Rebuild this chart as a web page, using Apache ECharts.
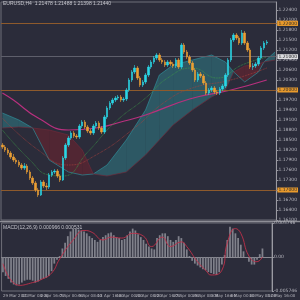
<!DOCTYPE html>
<html>
<head>
<meta charset="utf-8">
<script src="https://cdn.jsdelivr.net/npm/echarts@6/dist/echarts.min.js"></script>
<style>
html,body{margin:0;padding:0;background:#2b2c3a;}
#chart{width:300px;height:300px;}
</style>
</head>
<body>
<div id="chart"></div>
<script>
/* EURUSD candles + ichimoku cloud + MACD */
var opens = [1.1835,1.1829,1.1820,1.1811,1.1799,1.1790,1.1784,1.1775,1.1766,1.1772,
  1.1754,1.1736,1.1721,1.1700,1.1685,1.1724,1.1712,1.1709,1.1745,1.1754,
  1.1757,1.1742,1.1730,1.1796,1.1835,1.1856,1.1871,1.1862,1.1859,1.1892,
  1.1904,1.1889,1.1877,1.1871,1.1892,1.1901,1.1886,1.1874,1.1919,1.1946,
  1.1961,1.1970,1.1976,1.1979,1.1970,1.1973,1.2000,1.2030,1.2054,1.2066,
  1.2036,1.2015,1.2024,1.2045,1.2069,1.2084,1.2096,1.2105,1.2090,1.2084,
  1.2075,1.2084,1.2078,1.2072,1.2090,1.2069,1.2135,1.2114,1.2099,1.2081,
  1.2060,1.2030,1.2048,1.2042,1.2021,1.1991,1.2000,1.2006,1.1994,1.1991,
  1.2003,1.2012,1.2045,1.2090,1.2150,1.2165,1.2156,1.2141,1.2171,1.2141,
  1.2120,1.2069,1.2072,1.2078,1.2096,1.2126,1.2141];
var closes = [1.1829,1.1820,1.1811,1.1799,1.1790,1.1784,1.1775,1.1766,1.1772,1.1754,
  1.1736,1.1721,1.1700,1.1685,1.1724,1.1712,1.1709,1.1745,1.1754,1.1757,
  1.1742,1.1730,1.1796,1.1835,1.1856,1.1871,1.1862,1.1859,1.1892,1.1904,
  1.1889,1.1877,1.1871,1.1892,1.1901,1.1886,1.1874,1.1919,1.1946,1.1961,
  1.1970,1.1976,1.1979,1.1970,1.1973,1.2000,1.2030,1.2054,1.2066,1.2036,
  1.2015,1.2024,1.2045,1.2069,1.2084,1.2096,1.2105,1.2090,1.2084,1.2075,
  1.2084,1.2078,1.2072,1.2090,1.2069,1.2135,1.2114,1.2099,1.2081,1.2060,
  1.2030,1.2048,1.2042,1.2021,1.1991,1.2000,1.2006,1.1994,1.1991,1.2003,
  1.2012,1.2045,1.2090,1.2150,1.2165,1.2156,1.2141,1.2171,1.2141,1.2120,
  1.2069,1.2072,1.2078,1.2096,1.2126,1.2141,1.2144];
var lows = [1.1823,1.1814,1.1805,1.1793,1.1784,1.1778,1.1769,1.1760,1.1760,1.1748,
  1.1730,1.1715,1.1694,1.1679,1.1682,1.1706,1.1700,1.1703,1.1739,1.1748,
  1.1736,1.1724,1.1727,1.1790,1.1829,1.1850,1.1856,1.1853,1.1853,1.1886,
  1.1883,1.1871,1.1865,1.1865,1.1886,1.1880,1.1868,1.1868,1.1913,1.1940,
  1.1955,1.1964,1.1970,1.1964,1.1964,1.1967,1.1994,1.2024,1.2048,1.2030,
  1.2009,1.2009,1.2018,1.2039,1.2063,1.2078,1.2090,1.2084,1.2078,1.2069,
  1.2069,1.2072,1.2066,1.2066,1.2063,1.2063,1.2108,1.2093,1.2075,1.2054,
  1.2024,1.2024,1.2036,1.2015,1.1985,1.1985,1.1994,1.1988,1.1985,1.1985,
  1.1997,1.2006,1.2039,1.2084,1.2144,1.2150,1.2135,1.2135,1.2135,1.2114,
  1.2063,1.2060,1.2066,1.2072,1.2090,1.2120,1.2135];
var highs = [1.1841,1.1835,1.1826,1.1817,1.1808,1.1796,1.1790,1.1781,1.1781,1.1778,
  1.1760,1.1742,1.1727,1.1706,1.1730,1.1730,1.1721,1.1751,1.1760,1.1763,
  1.1763,1.1748,1.1802,1.1841,1.1862,1.1877,1.1877,1.1868,1.1898,1.1910,
  1.1910,1.1895,1.1883,1.1898,1.1907,1.1907,1.1892,1.1925,1.1952,1.1967,
  1.1976,1.1982,1.1985,1.1985,1.1979,1.2006,1.2036,1.2060,1.2075,1.2072,
  1.2042,1.2030,1.2051,1.2075,1.2090,1.2102,1.2111,1.2111,1.2096,1.2090,
  1.2090,1.2090,1.2084,1.2096,1.2096,1.2141,1.2141,1.2120,1.2105,1.2087,
  1.2066,1.2054,1.2054,1.2048,1.2027,1.2006,1.2012,1.2012,1.2000,1.2009,
  1.2018,1.2051,1.2096,1.2156,1.2171,1.2171,1.2162,1.2180,1.2177,1.2147,
  1.2126,1.2081,1.2084,1.2102,1.2132,1.2147,1.2150];

// moving averages, sampled at bar index
var maSlowIdx = [0,4,13,24,34,43,52,68,83,96];
var maSlow    = [1.1991,1.1970,1.1916,1.1880,1.1886,1.1904,1.1925,1.1973,1.2000,1.2030];
var maFastIdx = [0,10,17,22,31,41,52,60,69,78,87,96];
var maFast    = [1.1880,1.1790,1.1745,1.1742,1.1814,1.1904,1.1976,1.2036,1.2066,1.2036,1.2075,1.2099];
var maMidIdx  = [0,13,24,34,48,59,69,83,96];
var maMid     = [1.1916,1.1820,1.1775,1.1805,1.1886,1.1964,1.2006,1.2030,1.2066];

// ichimoku cloud
var cloudIdx = [0,6,11,17,24,29,33,38,45,52,57,62,69,76,81,84,88,93,95,99];
var spanA = [1.1931,1.1910,1.1886,1.1790,1.1754,1.1745,1.1748,1.1775,1.1850,1.1940,
  1.2045,1.2075,1.2090,1.2105,1.2084,1.2054,1.2024,1.2054,1.2084,1.2114];
var spanB = [1.1886,1.1889,1.1886,1.1880,1.1865,1.1820,1.1748,1.1742,1.1754,1.1805,
  1.1850,1.1895,1.1940,1.1979,1.2000,1.2054,1.2072,1.2078,1.2084,1.2090];

var levels = [1.2249, 1.2183, 1.1991, 1.1679];

// MACD
var macdHist = [-0.00256,-0.0032,-0.00368,-0.00432,-0.00464,-0.0048,-0.00464,-0.00432,-0.004,-0.00384,
  -0.00384,-0.004,-0.00432,-0.00416,-0.00384,-0.00368,-0.00352,-0.0032,-0.0024,-0.00112,
  -0.00048,0.00016,0.00144,0.0024,0.00352,0.00432,0.0048,0.0048,0.00464,0.00448,
  0.00432,0.004,0.00352,0.0032,0.00288,0.00256,0.00288,0.00336,0.00368,0.004,
  0.00416,0.00368,0.00336,0.0032,0.00288,0.00304,0.00368,0.00432,0.0048,0.00448,
  0.00384,0.00336,0.00288,0.00224,0.00176,0.00144,0.00128,0.0032,0.00368,0.004,
  0.004,0.00352,0.00288,0.00256,0.00288,0.00352,0.0032,0.0024,0.00128,0.00016,
  -0.00064,-0.00112,-0.00144,-0.00176,-0.00208,-0.00224,-0.00256,-0.00272,-0.00288,-0.00304,
  -0.00256,-0.00128,0.00032,0.00288,0.00512,0.0048,0.004,0.0032,0.00208,0.00096,
  0,-0.0008,-0.00128,-0.00128,-0.00048,0.00048,0.00144];
var signalIdx = [0,6,11,14,18,21,26,30,33,37,40,44,48,52,55,59,62,66,68,72,75,77,81,83,86,88,91,94,96];
var signalVal = [-0.00112,-0.0048,-0.00432,-0.00384,-0.00272,-0.00032,0.00288,0.00448,0.00416,0.00288,
  0.00336,0.0032,0.004,0.00352,0.00176,0.00336,0.00176,0.00256,0.00176,-0.0008,
  -0.00224,-0.00304,-0.00224,0.0024,0.0048,0.004,0.00016,-0.0008,0];

var dateLabels = ['29 Mar 2021','31 Mar 08:00','2 Apr 16:00','7 Apr 00:00','9 Apr 08:00',
  '13 Apr 16:00','16 Apr 00:00','20 Apr 08:00','22 Apr 16:00','27 Apr 00:00',
  '29 Apr 08:00','3 May 16:00','6 May 00:00','10 May 08:00','12 May 16:00'];
var slots = 100, labelStep = 7;

var cats = [];
for (var i = 0; i < slots; i++) {
    cats.push(i % labelStep === 0 ? (dateLabels[i / labelStep] || '') : '');
}
var candles = [];
for (var k = 0; k < closes.length; k++) {
    candles.push([opens[k], closes[k], lows[k], highs[k]]);
}
function pairs(idx, vals) {
    return idx.map(function (x, j) { return [x, vals[j]]; });
}
var lastPrice = closes[closes.length - 1];

var myChart = echarts.init(document.getElementById('chart'), null, {renderer: 'canvas'});

var markData = levels.map(function (v) { return {yAxis: v}; });
markData.push({
    yAxis: lastPrice,
    lineStyle: {color: '#5e5f6b', width: 1},
    label: {backgroundColor: '#dcdce0', color: '#222'}
});

var option = {
    backgroundColor: '#2b2c3a',
    animation: false,
    textStyle: {fontFamily: 'DejaVu Sans'},
    graphic: [
        {type: 'text', left: 3, top: 1, style: {text: 'EURUSD,H4  1.21478 1.21488 1.21398 1.21440', fontSize: 5, fill: '#c4c4cc'}},
        {type: 'text', left: 3, top: 225, style: {text: 'MACD(12,26,9) 0.000966 0.000531', fontSize: 5, fill: '#c4c4cc'}},
        {type: 'line', shape: {x1: 0, y1: 221.5, x2: 300, y2: 221.5}, style: {stroke: '#8e8e96', lineWidth: 1.5}}
    ],
    grid: [
        {left: 1, right: 13, top: 2, height: 218, show: true, borderColor: '#6e6e78', borderWidth: 1},
        {left: 1, right: 13, top: 223, height: 68, show: true, borderColor: '#6e6e78', borderWidth: 1}
    ],
    xAxis: [
        {type: 'category', data: cats, gridIndex: 0, boundaryGap: true,
         axisLine: {show: false}, axisTick: {show: false}, axisLabel: {show: false}, splitLine: {show: false}},
        {type: 'category', data: cats, gridIndex: 1, boundaryGap: true,
         axisLine: {lineStyle: {color: '#8a8a92'}},
         axisTick: {show: false},
         axisLabel: {interval: 0, fontSize: 4, color: '#b4b4bc', align: 'left', margin: 3, hideOverlap: false},
         splitLine: {show: false}}
    ],
    yAxis: [
        {type: 'value', gridIndex: 0, position: 'right', min: 1.161, max: 1.2264, interval: 0.003,
         axisLine: {show: true, lineStyle: {color: '#9a9aa2'}},
         axisTick: {show: true, length: 2, lineStyle: {color: '#9a9aa2'}},
         axisLabel: {fontSize: 4.5, color: '#b4b4bc', margin: 2, showMaxLabel: false,
                     formatter: function (v) { return v.toFixed(5); }},
         splitLine: {show: false}},
        {type: 'value', gridIndex: 1, position: 'right', min: -0.005746, max: 0.005746, interval: 0.005746,
         axisLine: {show: true, lineStyle: {color: '#9a9aa2'}},
         axisTick: {show: true, length: 2, lineStyle: {color: '#9a9aa2'}},
         axisLabel: {fontSize: 4.5, color: '#b4b4bc', margin: 2,
                     formatter: function (v) { return Math.abs(v) < 1e-9 ? '0.00' : v.toFixed(6); }},
         splitLine: {show: false}}
    ],
    series: [
        {
            name: 'cloud', type: 'custom', xAxisIndex: 0, yAxisIndex: 0, silent: true, z: 1,
            encode: {x: 0, y: [1, 2]},
            data: cloudIdx.map(function (x, j) { return [x, spanA[j], spanB[j]]; }),
            renderItem: function (params, api) {
                var j = params.dataIndex;
                if (j >= cloudIdx.length - 1) return null;
                var a0 = api.coord([cloudIdx[j], spanA[j]]);
                var a1 = api.coord([cloudIdx[j + 1], spanA[j + 1]]);
                var b1 = api.coord([cloudIdx[j + 1], spanB[j + 1]]);
                var b0 = api.coord([cloudIdx[j], spanB[j]]);
                var up = (spanA[j] + spanA[j + 1]) >= (spanB[j] + spanB[j + 1]);
                return {
                    type: 'polygon',
                    shape: {points: [a0, a1, b1, b0]},
                    style: {fill: up ? 'rgba(48,150,160,0.42)' : 'rgba(120,32,44,0.5)'}
                };
            }
        },
        {name: 'spanA', type: 'line', data: pairs(cloudIdx, spanA), symbol: 'none', silent: true, z: 2,
         lineStyle: {color: '#2f8d98', width: 0.7}},
        {name: 'spanB', type: 'line', data: pairs(cloudIdx, spanB), symbol: 'none', silent: true, z: 2,
         lineStyle: {color: '#6e2a3a', width: 0.7}},
        {name: 'maSlow', type: 'line', data: pairs(maSlowIdx, maSlow), symbol: 'none', smooth: true, silent: true, z: 3,
         lineStyle: {color: '#b8307e', width: 1.2}},
        {name: 'maMid', type: 'line', data: pairs(maMidIdx, maMid), symbol: 'none', smooth: true, silent: true, z: 3,
         lineStyle: {color: '#a8403c', width: 0.8, type: 'dotted'}},
        {name: 'maFast', type: 'line', data: pairs(maFastIdx, maFast), symbol: 'none', smooth: true, silent: true, z: 3,
         lineStyle: {color: '#3c9a48', width: 0.8, type: 'dotted'}},
        {
            name: 'EURUSD', type: 'candlestick', xAxisIndex: 0, yAxisIndex: 0, data: candles, z: 5,
            barWidth: 2,
            itemStyle: {color: '#2ad6e6', color0: '#eb9f34', borderColor: '#2ad6e6', borderColor0: '#eb9f34', borderWidth: 0.6},
            markLine: {
                silent: true, symbol: ['none', 'none'], animation: false,
                lineStyle: {color: '#8e5a2c', width: 1, type: 'solid'},
                label: {position: 'end', fontSize: 4.5, color: '#2a2a2a', backgroundColor: '#e99a2c',
                        padding: [0, 1, 0, 1], distance: 1,
                        formatter: function (p) { return p.value.toFixed(5); }},
                data: markData
            }
        },
        {name: 'MACD', type: 'bar', xAxisIndex: 1, yAxisIndex: 1, data: macdHist,
         barCategoryGap: '35%', itemStyle: {color: '#80818b'}, silent: true},
        {name: 'Signal', type: 'line', xAxisIndex: 1, yAxisIndex: 1, data: pairs(signalIdx, signalVal),
         symbol: 'none', smooth: true, silent: true, lineStyle: {color: '#c0304a', width: 0.9}}
    ]
};
myChart.setOption(option);
window.addEventListener('resize', myChart.resize);
</script>
</body>
</html>
